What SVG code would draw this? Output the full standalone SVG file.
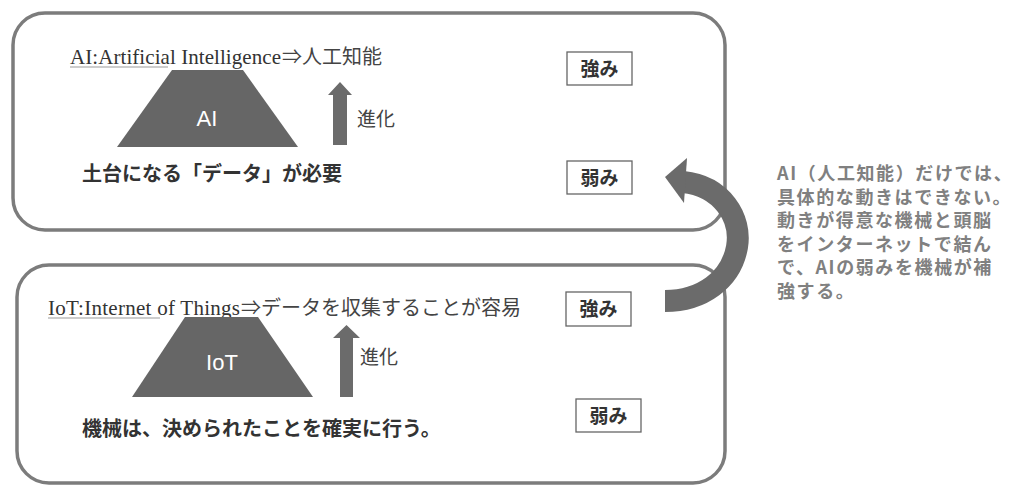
<svg xmlns="http://www.w3.org/2000/svg" width="1024" height="502" viewBox="0 0 1024 502">
<style>
.frame{fill:none;stroke:#7c7c7c;stroke-width:3.5}
.trap{fill:#666666}
.ttl{font-family:"Liberation Serif","Noto Serif CJK JP",serif;font-size:21px;fill:#333333}
.jp{font-family:"Noto Sans CJK JP",sans-serif;font-size:20px;fill:#444444}
.ul{stroke:#bdbdbd;stroke-width:1.5}
.inner{font-family:"Liberation Sans","Noto Sans",sans-serif;font-size:22px;fill:#ffffff;text-anchor:middle}
.evo{font-family:"Noto Sans CJK JP",sans-serif;font-size:19px;fill:#444444}
.bold{font-family:"Noto Sans CJK JP",sans-serif;font-size:20px;font-weight:700;fill:#333333}
.tag rect{fill:#ffffff;stroke:#666666;stroke-width:1.3}
.tag text{font-family:"Noto Sans CJK JP",sans-serif;font-size:19px;font-weight:700;fill:#333333;text-anchor:middle}
.up{fill:#6b6b6b}
.note{font-family:"Noto Sans CJK JP",sans-serif;font-size:18px;font-weight:700;fill:#808080;letter-spacing:1.6px}
</style>

<g id="ai-box">
  <rect class="frame" x="13" y="13" width="712" height="217" rx="32" ry="32"/>
  <text class="ttl" x="70" y="64" textLength="211" lengthAdjust="spacing">AI:Artificial Intelligence</text>
  <text class="jp" x="282" y="64">⇒人工知能</text>
  <line class="ul" x1="70" y1="67" x2="168" y2="67"/>
  <polygon class="trap" points="172,70 243,70 298,147 117,147"/>
  <text class="inner" x="207" y="126">AI</text>
  <polygon class="up" points="340,82 352,95 347,95 347,145 333,145 333,95 328,95"/>
  <text class="evo" x="357" y="126">進化</text>
  <text class="bold" x="82" y="181">土台になる「データ」が必要</text>
</g>

<g id="ai-strength" class="tag">
  <rect x="567" y="52" width="65" height="33"/>
  <text x="599.5" y="75.5">強み</text>
</g>
<g id="ai-weakness" class="tag">
  <rect x="567" y="161" width="65" height="33"/>
  <text x="599.5" y="184.5">弱み</text>
</g>

<g id="iot-box">
  <rect class="frame" x="17" y="265" width="708" height="218" rx="32" ry="32"/>
  <text class="ttl" x="48" y="315" textLength="192" lengthAdjust="spacing">IoT:Internet of Things</text>
  <text class="jp" x="241" y="315" font-size="21">⇒データを収集することが容易</text>
  <line class="ul" x1="48" y1="318" x2="160" y2="318"/>
  <polygon class="trap" points="185,317 258,317 313,397 132,397"/>
  <text class="inner" x="222" y="370">IoT</text>
  <polygon class="up" points="346.5,325 360,338 353,338 353,397 340,397 340,338 333,338"/>
  <text class="evo" x="360" y="364">進化</text>
  <text class="bold" x="82" y="436">機械は、決められたことを確実に行う。</text>
</g>

<g id="iot-strength" class="tag">
  <rect x="566" y="292" width="65" height="34"/>
  <text x="598.5" y="316">強み</text>
</g>
<g id="iot-weakness" class="tag">
  <rect x="576" y="399" width="65" height="33"/>
  <text x="608.5" y="422.5">弱み</text>
</g>

<g id="connectors">
  <path d="M 683 182 C 722 186, 742 218, 737 247 C 731 280, 702 301, 665 301" fill="none" stroke="#6b6b6b" stroke-width="22"/>
  <polygon points="665,177 687,158 684,203" fill="#6b6b6b"/>
</g>

<g id="note">
  <text class="note" x="777" y="180">AI（人工知能）だけでは、</text>
  <text class="note" x="777" y="203.6">具体的な動きはできない。</text>
  <text class="note" x="777" y="227.2">動きが得意な機械と頭脳</text>
  <text class="note" x="777" y="250.8">をインターネットで結ん</text>
  <text class="note" x="777" y="274.4">で、AIの弱みを機械が補</text>
  <text class="note" x="777" y="298">強する。</text>
</g>
</svg>
